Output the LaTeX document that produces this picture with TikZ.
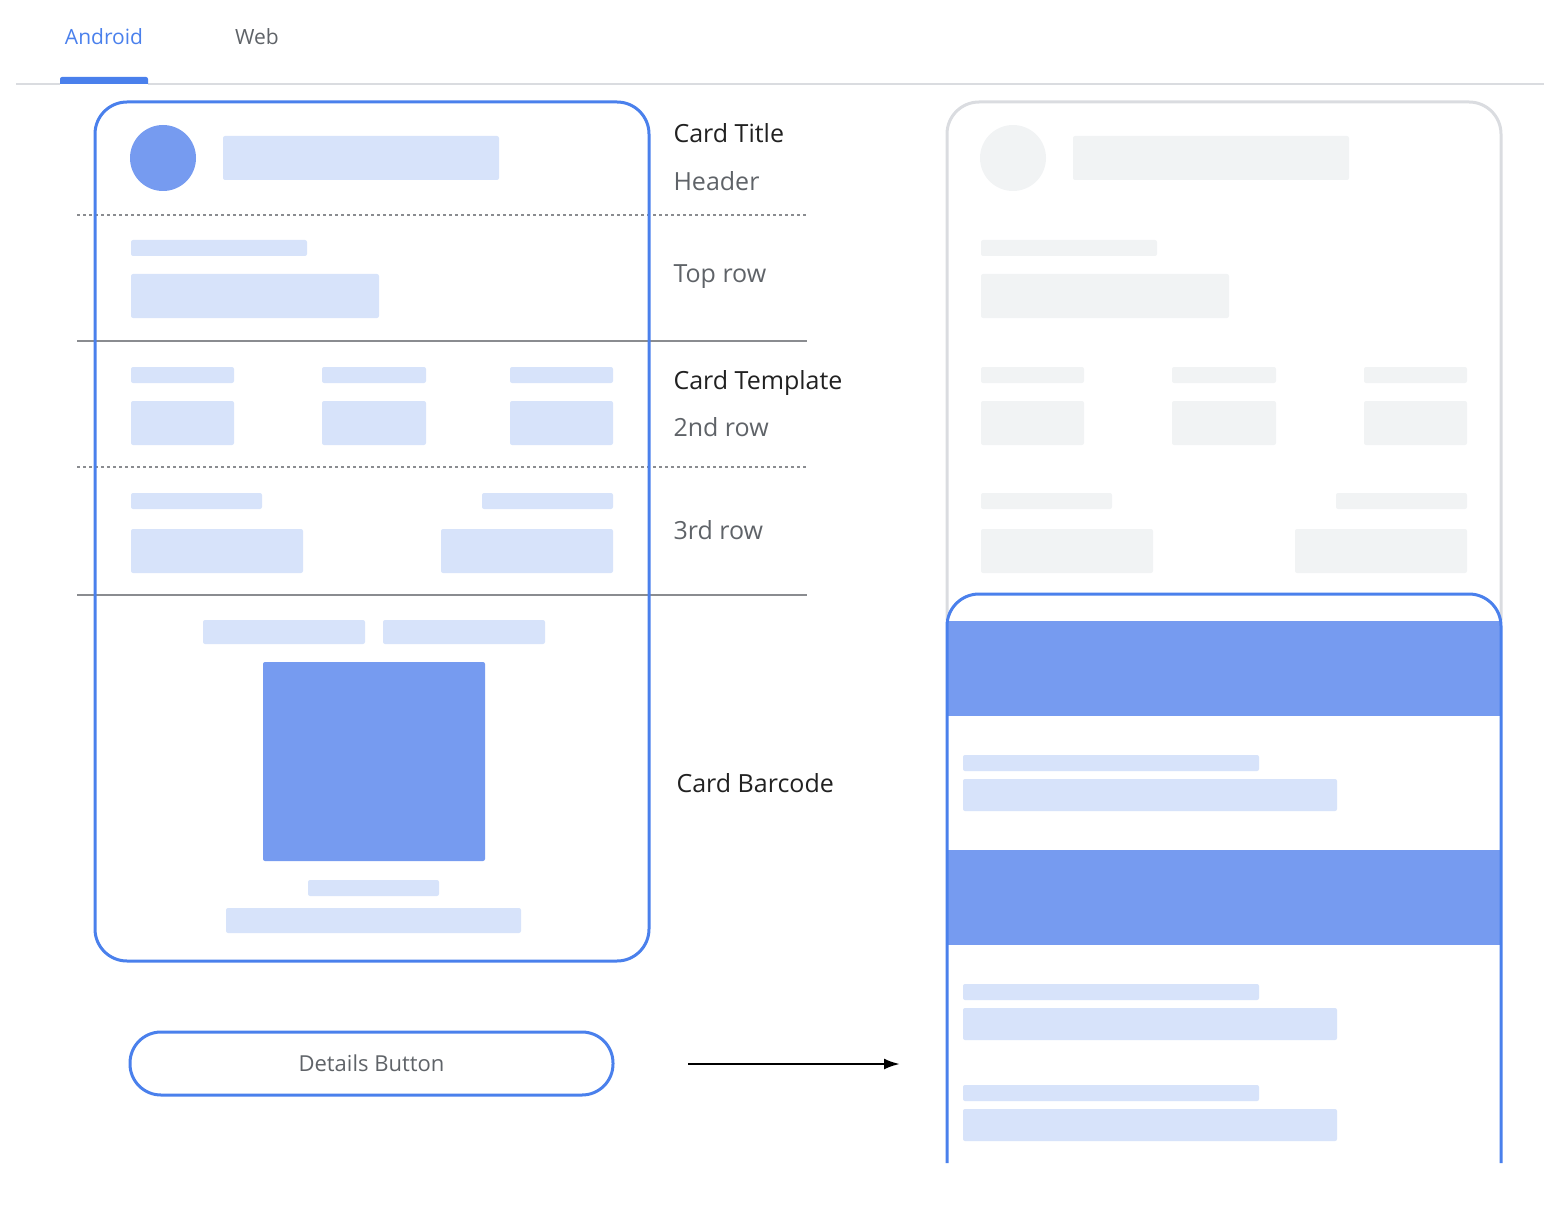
\documentclass[tikz,border=0pt]{standalone}
\usepackage{fontspec}
\setmainfont{Open Sans}
\usetikzlibrary{arrows.meta}
\definecolor{gblue}{HTML}{4A80EC}
\definecolor{mblue}{HTML}{769BF0}
\definecolor{lblue}{HTML}{D7E3FA}
\definecolor{lgray}{HTML}{F1F3F4}
\definecolor{bgray}{HTML}{DADCE0}
\definecolor{tgray}{HTML}{5F6368}
\definecolor{lgrayline}{HTML}{8A8C90}
\begin{document}
\begin{tikzpicture}[x=1pt,y=-1pt,
  bar/.style={fill=lblue,rounded corners=2pt},
  gbar/.style={fill=lgray,rounded corners=2pt},
  lbl/.style={anchor=west,font=\fontsize{25}{30}\selectfont,text=black!87},
  sub/.style={anchor=west,font=\fontsize{25}{30}\selectfont,text=tgray},
  sep/.style={draw=lgrayline,line width=1.2pt},
  dsep/.style={draw=lgrayline,line width=1.2pt,dash pattern=on 3pt off 3pt}]
\useasboundingbox (0,0) rectangle (1544,1206);
% tabs
\node[font=\fontsize{21}{26}\selectfont,text=gblue] (android) at (104,37) {Android};
\node[font=\fontsize{21}{26}\selectfont,text=tgray] (web) at (257,37) {Web};
\fill[bgray] (16,83) rectangle (1544,85);
\fill[gblue,rounded corners=2pt] (60,77) rectangle (148,86);
\fill[white] (60,84) rectangle (148,87);
% left card content
\fill[mblue] (163,158) circle (33);
\fill[bar] (223,136) rectangle (499,180);
\fill[bar] (131,240) rectangle (307,256);
\fill[bar] (131,274) rectangle (379,318);
\foreach \a/\b in {131/234,322/426,510/613}{
  \fill[bar] (\a,367) rectangle (\b,383);
  \fill[bar] (\a,401) rectangle (\b,445);}
\fill[bar] (131,493) rectangle (262,509);
\fill[bar] (482,493) rectangle (613,509);
\fill[bar] (131,529) rectangle (303,573);
\fill[bar] (441,529) rectangle (613,573);
\fill[bar] (203,620) rectangle (365,644);
\fill[bar] (383,620) rectangle (545,644);
\fill[mblue,rounded corners=2pt] (263,662) rectangle (485,861);
\fill[bar] (308,880) rectangle (439,896);
\fill[bar] (226,908) rectangle (521,933);
% separators
\draw[dsep] (77,215) -- (807,215);
\draw[dsep] (77,467) -- (807,467);
\draw[sep] (77,341) -- (807,341);
\draw[sep] (77,595) -- (807,595);
\node[draw=gblue,line width=3pt,rounded corners=32pt,minimum width=554pt,minimum height=859pt] (card) at (372,531.5) {};
% labels
\node[lbl] (t1) at (670,133) {Card Title};
\node[sub] (t2) at (670,181) {Header};
\node[sub] (t3) at (670,277) {Top row};
\node[lbl] (t4) at (670,383) {Card Template};
\node[sub] (t5) at (670,427) {2nd row};
\node[sub] (t6) at (670,530) {3rd row};
\node[lbl] (t7) at (673,783) {Card Barcode};
% button
\node[draw=gblue,line width=3pt,rounded corners=31pt,minimum width=483pt,minimum height=63pt,font=\fontsize{22}{26}\selectfont,text=tgray] (btn) at (371.5,1063.5) {Details Button};
\coordinate (as) at (688,1064);
\coordinate (ae) at (900,1064);
\draw[line width=2.5pt,-{Latex[length=16pt,width=11pt]}] (as) -- (ae);
% right gray card
\draw[bgray,line width=3pt,rounded corners=32pt] (947,620) -- (947,102) -- (1501,102) -- (1501,620);
\fill[lgray] (1013,158) circle (33);
\fill[gbar] (1073,136) rectangle (1349,180);
\fill[gbar] (981,240) rectangle (1157,256);
\fill[gbar] (981,274) rectangle (1229,318);
\foreach \a/\b in {981/1084,1172/1276,1364/1467}{
  \fill[gbar] (\a,367) rectangle (\b,383);
  \fill[gbar] (\a,401) rectangle (\b,445);}
\fill[gbar] (981,493) rectangle (1112,509);
\fill[gbar] (1336,493) rectangle (1467,509);
\fill[gbar] (981,529) rectangle (1153,573);
\fill[gbar] (1295,529) rectangle (1467,573);
% blue overlay
\fill[white,rounded corners=32pt] (947,1163) -- (947,594) -- (1501,594) -- (1501,1163) -- cycle;
\fill[mblue] (947,621) rectangle (1501,716);
\fill[mblue] (947,850) rectangle (1501,945);
\foreach \y in {755,984,1085}{
  \fill[bar] (963,\y) rectangle (1259,\y+16);
  \fill[bar] (963,\y+24) rectangle (1337,\y+56);}
\draw[gblue,line width=3pt,rounded corners=32pt] (947,1163) -- (947,594) -- (1501,594) -- (1501,1163);
\end{tikzpicture}
\end{document}
